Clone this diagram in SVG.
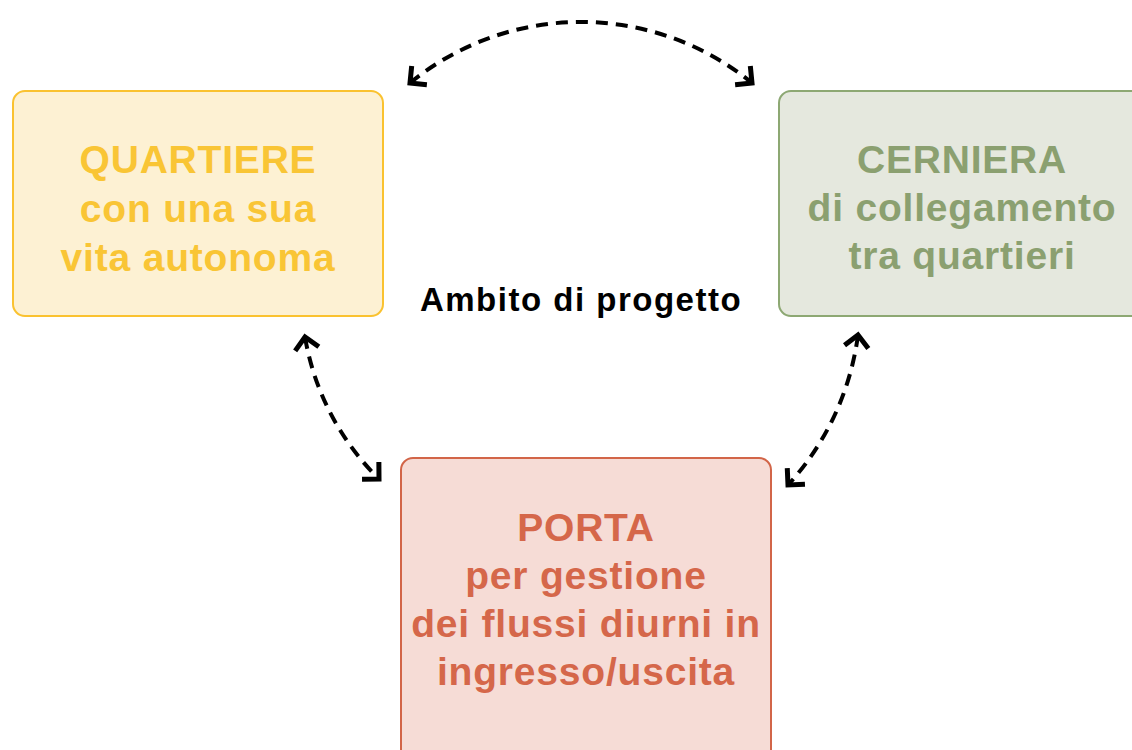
<svg xmlns="http://www.w3.org/2000/svg" width="1132" height="750" viewBox="0 0 1132 750">
<style>
.box{stroke-width:2}
.t{font-family:"Liberation Sans",Arial,sans-serif;font-weight:bold;font-size:39px;letter-spacing:0.8px;text-anchor:middle}
.lbl{font-family:"Liberation Sans",Arial,sans-serif;font-weight:bold;font-size:33px;letter-spacing:1.5px;text-anchor:middle;fill:#000}
.c{fill:none;stroke:#000;stroke-width:4;stroke-dasharray:12 8}
</style>
<defs>
<marker id="ah" markerUnits="userSpaceOnUse" markerWidth="40" markerHeight="40" refX="0" refY="0" viewBox="-20 -20 40 40" orient="auto-start-reverse" overflow="visible">
<path d="M -12 -12 L 0 0 L -12 12" fill="none" stroke="#000" stroke-width="5" stroke-linejoin="miter" stroke-dasharray="none"/>
</marker>
</defs>
<rect width="1132" height="750" fill="#fff"/>
<g id="connectors">
<path class="c" d="M 410 83 A 270 270 0 0 1 752 83" marker-start="url(#ah)" marker-end="url(#ah)"/>
<path class="c" d="M 305 337 A 260 260 0 0 0 379 479" marker-start="url(#ah)" marker-end="url(#ah)"/>
<path class="c" d="M 858 335 A 275 275 0 0 1 788 485" marker-start="url(#ah)" marker-end="url(#ah)"/>
</g>
<g id="quartiere">
<rect class="box" x="13" y="91" width="370" height="225" rx="12" fill="#FDF1D3" stroke="#FAC230"/>
<text class="t" fill="#F9C535"><tspan x="198" y="173">QUARTIERE</tspan><tspan x="198" y="222">con una sua</tspan><tspan x="198" y="271">vita autonoma</tspan></text>
</g>
<g id="cerniera">
<rect class="box" x="779" y="91" width="370" height="225" rx="12" fill="#E5E8DE" stroke="#8DA873"/>
<text class="t" fill="#8BA070"><tspan x="962" y="173">CERNIERA</tspan><tspan x="962" y="221">di collegamento</tspan><tspan x="962" y="269">tra quartieri</tspan></text>
</g>
<g id="porta">
<rect class="box" x="401" y="458" width="370" height="310" rx="12" fill="#F6DCD6" stroke="#D26548"/>
<text class="t" fill="#D5674A"><tspan x="586" y="541">PORTA</tspan><tspan x="586" y="589">per gestione</tspan><tspan x="586" y="637">dei flussi diurni in</tspan><tspan x="586" y="685">ingresso/uscita</tspan></text>
</g>
<g id="ambito">
<text class="lbl" x="581" y="311">Ambito di progetto</text>
</g>
</svg>
